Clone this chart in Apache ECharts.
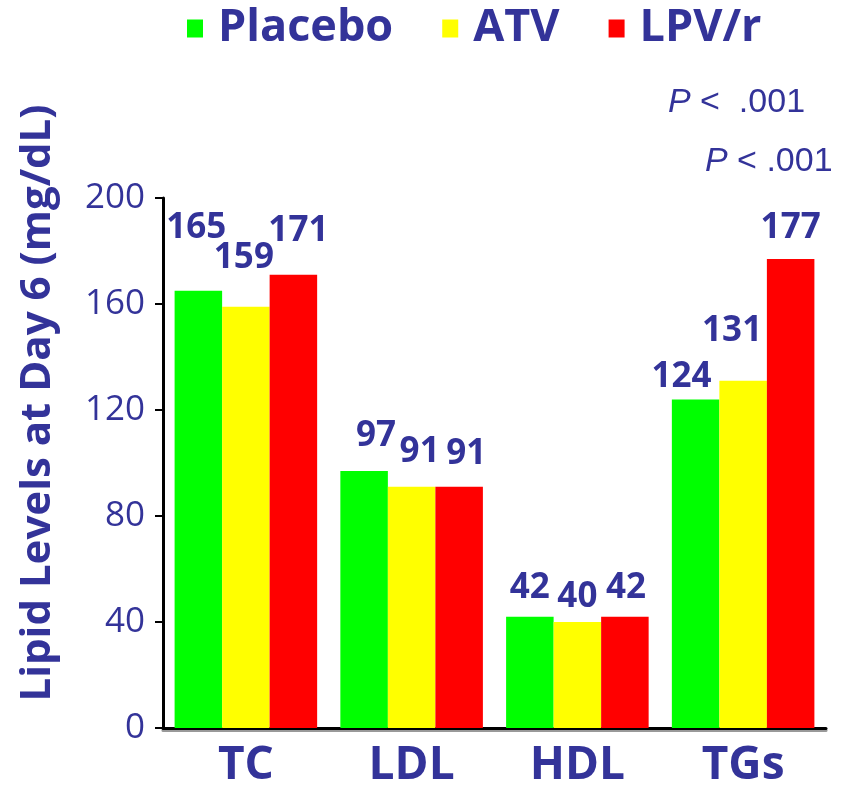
<!DOCTYPE html>
<html>
<head>
<meta charset="utf-8">
<script src="https://cdn.jsdelivr.net/npm/echarts@6/dist/echarts.min.js"></script>
<style>html,body{margin:0;padding:0;background:#fff}#c{width:850px;height:789px}</style>
</head>
<body>
<div id="c"></div>
<script>
// ---- data ----
const categories = ['TC', 'LDL', 'HDL', 'TGs'];
const seriesNames = ['Placebo', 'ATV', 'LPV/r'];
const placebo = [165, 97, 42, 124];
const atv = [159, 91, 40, 131];
const lpvr = [171, 91, 42, 177];
const yTicks = [0, 40, 80, 120, 160, 200];
const pNotes = ['P <  .001', 'P < .001'];
const yAxisTitle = 'Lipid Levels at Day 6 (mg/dL)';

// ---- styling / layout (not data) ----
const colors = ['#00ff00', '#ffff00', '#ff0000'];
const ink = '#333399';
const boldFont = "'Open Sans', 'Noto Sans', sans-serif";
// per-label nudges [dx, dy] to mimic the staggered labels of the original
const labelNudge = [
  [[-2, -40], [12, -12], [0, -6], [-14, 0]],
  [[-2, -26], [8, -12], [0, -2], [-11, -27]],
  [[5, -21], [7, -10], [1, -6], [0, -8]]
];

const values = [placebo, atv, lpvr];
const chart = echarts.init(document.getElementById('c'));

const series = values.map((arr, si) => ({
  name: seriesNames[si],
  type: 'bar',
  barGap: '0%',
  barCategoryGap: '14%',
  itemStyle: { color: colors[si] },
  data: arr.map((v, ci) => ({
    value: v,
    label: { offset: labelNudge[si][ci] }
  })),
  label: {
    show: true,
    position: 'top',
    distance: 5,
    color: ink,
    fontFamily: boldFont,
    fontWeight: 'bold',
    fontSize: 35
  }
}));

const pRich = {
  i: { fontFamily: "'Liberation Sans', Arial, sans-serif", fontStyle: 'italic', fontSize: 34, fill: ink },
  n: { fontFamily: "'Liberation Sans', Arial, sans-serif", fontSize: 34, fill: ink }
};
const pText = s => '{i|' + s.slice(0, 1) + '}{n|' + s.slice(1).replace(/ /g, '\u00a0') + '}';

chart.setOption({
  animation: false,
  backgroundColor: '#fff',
  color: colors,
  legend: {
    data: seriesNames,
    left: 182,
    top: 1,
    icon: 'rect',
    itemWidth: 16,
    itemHeight: 18,
    itemGap: 49,
    textStyle: {
      color: ink,
      fontFamily: boldFont,
      fontWeight: 'bold',
      fontSize: 45,
      padding: [0, 0, 0, 10]
    }
  },
  grid: { left: 163, right: 24, top: 198, bottom: 61 },
  xAxis: {
    type: 'category',
    data: categories,
    axisLine: { lineStyle: { color: '#000', width: 3, shadowColor: '#999', shadowOffsetY: 2 } },
    axisTick: { show: false },
    axisLabel: {
      color: ink,
      fontFamily: boldFont,
      fontWeight: 'bold',
      fontSize: 46,
      margin: 15
    }
  },
  yAxis: {
    type: 'value',
    min: yTicks[0],
    max: yTicks[yTicks.length - 1],
    interval: yTicks[1] - yTicks[0],
    axisLine: { show: true, lineStyle: { color: '#000', width: 3 } },
    axisTick: { show: true, inside: false, length: 8, lineStyle: { color: '#000', width: 2 } },
    splitLine: { show: false },
    axisLabel: {
      color: ink,
      fontFamily: boldFont,
      fontSize: 35,
      margin: 18
    }
  },
  graphic: [
    {
      type: 'text',
      x: 38, y: 403,
      rotation: Math.PI / 2,
      style: {
        text: yAxisTitle,
        fill: ink,
        font: "bold 42px 'Open Sans', sans-serif",
        align: 'center',
        verticalAlign: 'middle'
      }
    },
    {
      type: 'text',
      x: 668, y: 103,
      style: {
        text: pText(pNotes[0]),
        rich: pRich,
        font: "34px 'Liberation Sans', sans-serif",
        fill: ink,
        verticalAlign: 'middle'
      }
    },
    {
      type: 'text',
      x: 705, y: 162,
      style: {
        text: pText(pNotes[1]),
        rich: pRich,
        font: "34px 'Liberation Sans', sans-serif",
        fill: ink,
        verticalAlign: 'middle'
      }
    }
  ],
  series: series
});
</script>
</body>
</html>
